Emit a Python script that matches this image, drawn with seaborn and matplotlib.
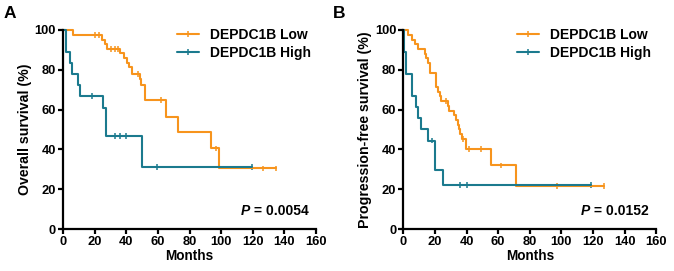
import numpy as np
import pandas as pd
import matplotlib
matplotlib.use('Agg')
import matplotlib.pyplot as plt
from matplotlib.lines import Line2D
import seaborn as sns

# %%

groups = ['DEPDC1B Low', 'DEPDC1B High']
colors = {'DEPDC1B Low': '#F7941D', 'DEPDC1B High': '#1B7A8E'}

# overall survival, step curves (months, %)
os_low_t = [0, 6.3, 24.5, 26.5, 28, 36, 38.5, 40.5, 42, 43.5, 48.5, 49.5, 51.7, 65.4, 72.7, 93.8, 98.7, 135]
os_low_s = [100, 97.6, 95.2, 92.9, 90.5, 88.2, 85.9, 83.5, 81.2, 77.9, 75.4, 72.4, 64.8, 56.4, 48.6, 40.5, 30.5, 30.5]
os_low_cens = [20.2, 22.8, 30.6, 32.7, 34.8, 47.5, 62.2, 96.6, 126.5, 135]

os_high_t = [0, 2.1, 4.2, 6.0, 9.5, 10.5, 25.5, 27, 50.2, 119.3]
os_high_s = [100, 88.9, 83.3, 77.8, 72.2, 66.7, 60.6, 46.7, 31.1, 31.1]
os_high_cens = [18.5, 32.7, 36.3, 40.1, 59.5, 119.3]

# progression-free survival
pfs_low_t = [0, 3.1, 5.2, 7.3, 9, 13.5, 14.6, 15.6, 16.7, 20.8, 21.9, 22.9, 24, 28, 29,
             32.3, 33.3, 34.4, 35, 36, 37, 39.6, 55.2, 71.3, 127]
pfs_low_s = [100, 97.6, 95.2, 92.9, 90.5, 88.1, 85.7, 83.3, 78.6, 71.4, 69, 66.7, 64.3, 61.9, 59.5,
             57.1, 54.8, 52.4, 50, 47.6, 45.2, 40.2, 32, 21.5, 21.5]
pfs_low_cens = [26.7, 38, 41.7, 49, 61.9, 96.9, 127]

pfs_high_t = [0, 0.6, 1.7, 5.2, 8.3, 9, 11.5, 15.6, 19.8, 25, 118.8]
pfs_high_s = [100, 88.9, 77.8, 66.7, 61.1, 55.6, 50, 44.4, 29.6, 22.2, 22.2]
pfs_high_cens = [18.3, 35.8, 40, 118.8]

p_values = ['0.0054', '0.0152']
ylabels = ['Overall survival (%)', 'Progression-free survival (%)']
panel_letters = ['A', 'B']

# %%

def curve_frame(t_low, s_low, t_high, s_high):
    return pd.concat([
        pd.DataFrame({'time': t_low, 'surv': s_low, 'group': groups[0]}),
        pd.DataFrame({'time': t_high, 'surv': s_high, 'group': groups[1]}),
    ])


def censor_frame(t_low, s_low, c_low, t_high, s_high, c_high):
    rows = []
    for g, t, s, c in [(groups[0], t_low, s_low, c_low), (groups[1], t_high, s_high, c_high)]:
        idx = np.searchsorted(t, c, side='right') - 1
        rows.append(pd.DataFrame({'time': c, 'surv': np.array(s)[idx], 'group': g}))
    return pd.concat(rows)


panels = [
    (curve_frame(os_low_t, os_low_s, os_high_t, os_high_s),
     censor_frame(os_low_t, os_low_s, os_low_cens, os_high_t, os_high_s, os_high_cens)),
    (curve_frame(pfs_low_t, pfs_low_s, pfs_high_t, pfs_high_s),
     censor_frame(pfs_low_t, pfs_low_s, pfs_low_cens, pfs_high_t, pfs_high_s, pfs_high_cens)),
]

# %%

sns.set_style('ticks', {'axes.edgecolor': 'black', 'text.color': 'black',
                        'axes.labelcolor': 'black', 'xtick.color': 'black',
                        'ytick.color': 'black'})
plt.rcParams['font.family'] = ['Liberation Sans', 'DejaVu Sans']
plt.rcParams['font.weight'] = 'bold'

fig = plt.figure(figsize=(6.74, 2.71), dpi=100)
lefts = [63 / 674, 403.3 / 674]
width = 253 / 674
bottom = 1 - 229 / 271
height = 199 / 271
letter_x = [4 / 674, 333 / 674]

for i, (curves, cens) in enumerate(panels):
    ax = fig.add_axes([lefts[i], bottom, width, height])
    sns.lineplot(data=curves, x='time', y='surv', hue='group', palette=colors,
                 estimator=None, drawstyle='steps-post', linewidth=1.5,
                 legend=False, ax=ax, clip_on=False)
    sns.scatterplot(data=cens, x='time', y='surv', hue='group', palette=colors,
                    marker='|', s=16, linewidth=1.1, legend=False, ax=ax, clip_on=False)

    ax.set_xlim(0, 160)
    ax.set_ylim(0, 100)
    ax.set_xticks(range(0, 161, 20))
    ax.set_yticks(range(0, 101, 20))
    for sp in ['top', 'right']:
        ax.spines[sp].set_visible(False)
    for sp in ['left', 'bottom']:
        ax.spines[sp].set_linewidth(1.6)
    ax.tick_params(width=1.6, length=3.5, labelsize=9.3, pad=1.5)
    for lab in ax.get_xticklabels() + ax.get_yticklabels():
        lab.set_fontweight('bold')
    ax.set_xlabel('Months', fontsize=9.8, fontweight='bold', labelpad=1)
    ax.set_ylabel(ylabels[i], fontsize=10.2, fontweight='bold', labelpad=2)

    handles = [Line2D([0], [0], color=colors[g], lw=1.5, marker='|', markersize=4,
                      markeredgewidth=1.1) for g in groups]
    ax.legend(handles, groups, loc='upper right', bbox_to_anchor=(1.03, 1.075),
              frameon=False, handlelength=1.6, handletextpad=0.8, labelspacing=0.3,
              prop={'size': 10, 'weight': 'bold'})

    val = ax.text(0.97, 0.09, ' = ' + p_values[i], transform=ax.transAxes,
                  ha='right', va='center', fontsize=10, fontweight='bold')
    ax.annotate('P', xy=(0, 0.5), xycoords=val, ha='right', va='center',
                fontsize=10, fontweight='bold', fontstyle='italic')

    fig.text(letter_x[i], 0.952, panel_letters[i], fontsize=12.5, fontweight='bold',
             ha='left', va='center')

fig.savefig('out.png', dpi=100)
